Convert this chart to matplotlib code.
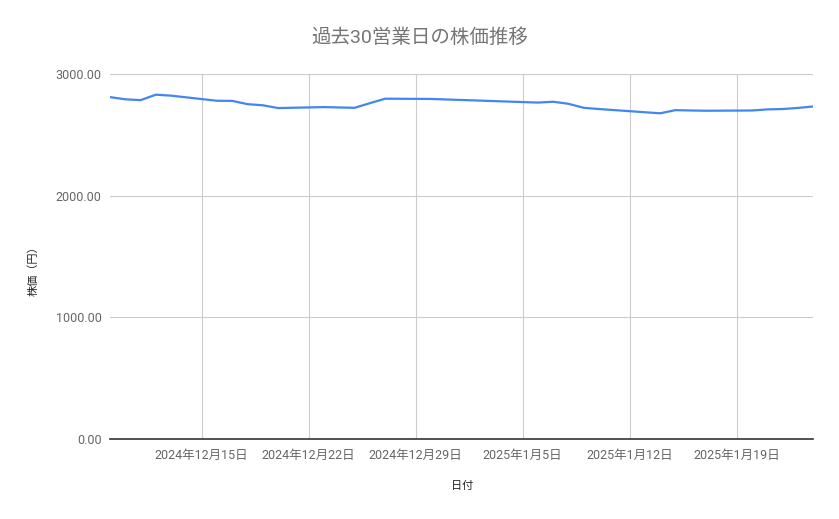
import matplotlib
matplotlib.use("Agg")
import matplotlib.pyplot as plt
import matplotlib.dates as mdates
import numpy as np
import datetime as dt

plt.rcParams['font.family'] = ['Roboto', 'Noto Sans CJK JP', 'DejaVu Sans']

dates = [
    "2024-12-09", "2024-12-10", "2024-12-11", "2024-12-12", "2024-12-13",
    "2024-12-16", "2024-12-17", "2024-12-18", "2024-12-19", "2024-12-20",
    "2024-12-23", "2024-12-24", "2024-12-25", "2024-12-26", "2024-12-27",
    "2024-12-30",
    "2025-01-06", "2025-01-07", "2025-01-08", "2025-01-09", "2025-01-10",
    "2025-01-14", "2025-01-15", "2025-01-16", "2025-01-17",
    "2025-01-20", "2025-01-21", "2025-01-22", "2025-01-23", "2025-01-24",
]
prices = [
    2810, 2792, 2785, 2830, 2822,
    2780, 2779, 2752, 2743, 2720,
    2728, 2725, 2722, 2760, 2797,
    2795,
    2765, 2772, 2755, 2722, 2712,
    2677, 2703, 2700, 2698,
    2700, 2709, 2712, 2721, 2733,
]
tick_dates = ["2024-12-15", "2024-12-22", "2024-12-29", "2025-01-05", "2025-01-12", "2025-01-19"]
y_ticks = [0, 1000, 2000, 3000]

title = "過去30営業日の株価推移"
x_label = "日付"
y_label = "株価（円）"

x = [dt.datetime.strptime(d, "%Y-%m-%d") for d in dates]
xt = [dt.datetime.strptime(d, "%Y-%m-%d") for d in tick_dates]

fig = plt.figure(figsize=(8.39, 5.19), dpi=100)
ax = fig.add_axes([110/839, 1-439/519, (813-110)/839, (439-74)/519])

ax.plot(x, prices, color="#4285F4", linewidth=1.6, solid_joinstyle="round", zorder=3)

ax.set_xlim(x[0], x[-1])
ax.set_ylim(0, 3000)
ax.set_yticks(y_ticks)
ax.set_yticklabels([f"{v:.2f}" for v in y_ticks])
ax.set_xticks(xt)
ax.set_xticklabels([f"{d.year}年{d.month}月{d.day}日" for d in xt])

ax.grid(True, color="#cccccc", linewidth=0.8, zorder=0)
for s in ["left", "right", "top"]:
    ax.spines[s].set_visible(False)
ax.spines["bottom"].set_color("#333333")
ax.spines["bottom"].set_linewidth(1.2)
ax.spines["bottom"].set_zorder(4)
ax.tick_params(axis="both", length=0, labelsize=9, labelcolor="#666666")
ax.tick_params(axis="x", pad=7)
ax.tick_params(axis="y", pad=6)

fig.text(420/839, 1-38/519, title, ha="center", va="center", fontsize=14, color="#757575")
fig.text(462/839, 1-486/519, x_label, ha="center", va="center", fontsize=8, color="#222222")
fig.text(33/839, 1-268/519, y_label, ha="center", va="center", rotation=90, fontsize=8, color="#222222")

fig.savefig("out.png", dpi=100)
